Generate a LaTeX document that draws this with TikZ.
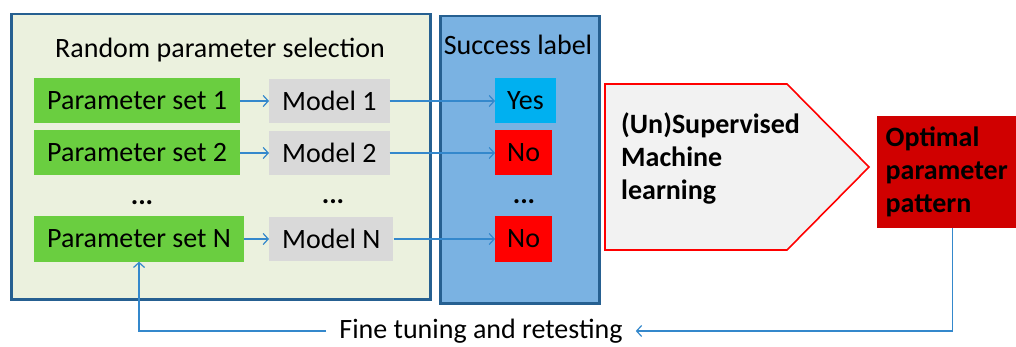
\documentclass[tikz,border=0pt]{standalone}
\usepackage{fontspec}
\setmainfont{Carlito}
\usepackage{tikz}
\usetikzlibrary{arrows.meta, positioning}
\definecolor{panelblue}{RGB}{38,96,145}
\definecolor{selectfill}{RGB}{235,241,222}
\definecolor{labelfill}{RGB}{122,178,226}
\definecolor{setgreen}{RGB}{106,206,64}
\definecolor{modelgray}{RGB}{217,217,217}
\definecolor{yescyan}{RGB}{0,176,240}
\definecolor{nored}{RGB}{255,0,0}
\definecolor{optred}{RGB}{208,0,0}
\definecolor{mlfill}{RGB}{242,242,242}
\definecolor{flowblue}{RGB}{52,136,204}

\begin{document}
\begin{tikzpicture}[
x=1pt, y=-1pt,
font=\fontsize{28}{33}\selectfont,
boldtexts/.style = {font=\fontsize{28}{33}\selectfont\bfseries},
panel/.style = {draw=panelblue, line width=2.5pt, anchor=north west},
setnode/.style = {fill=setgreen, anchor=west, inner xsep=13pt, minimum height=45pt},
modelnode/.style = {fill=modelgray, anchor=west, inner xsep=13pt, minimum height=44pt},
answer/.style = {anchor=west, inner xsep=12pt, minimum height=45pt},
dotstexts/.style = {boldtexts, anchor=base},
mlshape/.style = {fill=mlfill, draw=nored, line width=1.6pt, line join=miter},
flowline/.style = {draw=flowblue, line width=1.2pt, -{Straight Barb[length=5pt, width=11pt]}}
]
\path[use as bounding box, fill=white] (0,0) rectangle (1016,347);

% the two panels
\node[panel, fill=selectfill, minimum width=419pt, minimum height=285pt] (select) at (10,13) {};
\node[panel, fill=labelfill, minimum width=159pt, minimum height=287pt] (label) at (439,15) {};
\node[anchor=base] (selecttitle) at (220,58) {Random parameter selection};
\node[anchor=base] (labeltitle) at (518,55) {Success label};

% parameter sets
\node[setnode] (set1) at (34,101) {Parameter set 1};
\node[setnode] (set2) at (34,153) {Parameter set 2};
\node[dotstexts] (setdots) at (142,205) {...};
\node[setnode] (setn) at (34,239) {Parameter set N};

% models
\node[modelnode] (model1) at (269,101) {Model 1};
\node[modelnode] (model2) at (269,153) {Model 2};
\node[dotstexts] (modeldots) at (333,204) {...};
\node[modelnode] (modeln) at (269,239) {Model N};

% success labels
\node[answer, fill=yescyan] (ans1) at (495,101) {Yes};
\node[answer, fill=nored] (ans2) at (495,153) {No};
\node[dotstexts] (ansdots) at (524,204) {...};
\node[answer, fill=nored] (ansn) at (495,239) {No};

\draw[flowline] (set1) -- (model1);
\draw[flowline] (set2) -- (model2);
\draw[flowline] (setn) -- (modeln);
\draw[flowline] (model1) -- (ans1);
\draw[flowline] (model2) -- (ans2);
\draw[flowline] (modeln) -- (ansn);

% learning step and result
\draw[mlshape] (605,84) -- (787,84) -- (869,167) -- (787,250) -- (605,250) -- cycle;
\node[boldtexts, anchor=west, align=left, inner sep=0pt] (mltext) at (621,158) {(Un)Supervised\\Machine\\learning};
\node[boldtexts, fill=optred, align=left, minimum width=139pt, minimum height=112pt, anchor=west] (opt) at (877,172) {Optimal\\parameter\\pattern};

% feedback loop
\node[inner xsep=13pt] (fine) at (481,331) {Fine tuning and retesting};
\draw[flowline] ([xshift=6pt]opt.south) |- (fine.east);
\draw[flowline] (fine.west) -| (setn.south);
\end{tikzpicture}
\end{document}
